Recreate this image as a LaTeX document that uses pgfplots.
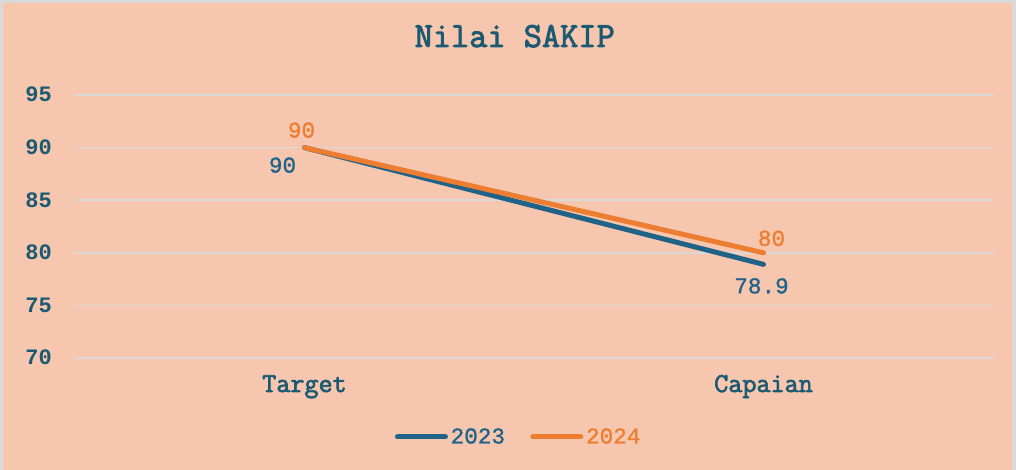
\documentclass[border=0pt]{standalone}
\usepackage{fontspec}
\usepackage{pgfplots}
\pgfplotsset{compat=1.18}
\newfontfamily\lmono{Liberation Mono}
\newfontfamily\lmonos[FakeBold=1]{Liberation Mono}
\newfontfamily\courb[FakeBold=2.5]{Latin Modern Mono}
\definecolor{bg}{HTML}{F6C7AE}
\definecolor{tealtxt}{HTML}{1B5A72}
\definecolor{lineA}{HTML}{1F6388}
\definecolor{orng}{HTML}{ED7D31}
\definecolor{gridc}{HTML}{D9D9D9}
\begin{document}
\begin{tikzpicture}[x=0.75pt,y=0.75pt]
\fill[gridc] (-75,-112) rectangle (941,358);
\fill[bg] (-72,-112) rectangle (937,355);
\useasboundingbox (-75,-112) rectangle (941,358);
\begin{axis}[
  at={(0,0)}, anchor=south west, scale only axis,
  width=688.5pt, height=197.25pt,
  xmin=-0.5, xmax=1.5, ymin=70, ymax=95,
  xtick={0,1}, xticklabels={Target,Capaian},
  ytick={70,75,80,85,90,95},
  axis line style={draw=none}, major tick length=0pt,
  ymajorgrids, grid style={gridc, line width=1.1pt},
  /pgf/number format/assume math mode=true,
  yticklabel style={font=\lmono\bfseries\fontsize{16.5}{16.5}\selectfont, text=tealtxt, anchor=base east, inner sep=0pt, xshift=-17.25pt, yshift=-5.25pt},
  xticklabel style={font=\courb\fontsize{20.5}{20.5}\selectfont, text=tealtxt, anchor=base, inner sep=0pt, yshift=-25.5pt},
  title={Nilai SAKIP},
  title style={font=\courb\fontsize{26.5}{28}\selectfont, text=tealtxt, at={(0.479,1)}, anchor=base, inner sep=0pt, yshift=30pt},
  legend style={at={(0.4837,-0.30)}, anchor=center, draw=none, fill=none,
    font=\lmonos\fontsize{17}{17}\selectfont, legend columns=2,
    /tikz/every even column/.append style={column sep=17pt}},
  legend image code/.code={\draw[#1, line cap=round] (0pt,0pt) -- (36pt,0pt);},
  nodes near coords,
  every node near coord/.append style={font=\lmonos\fontsize{17}{17}\selectfont, anchor=base, inner sep=0pt},
]
\addplot[lineA, line width=3.75pt, line cap=round, mark=none,
  every node near coord/.append style={text=lineA},
  coordinate style/.condition={x==0}{xshift=-16.5pt, yshift=-18.75pt},
  coordinate style/.condition={x==1}{xshift=-1.5pt, yshift=-21.75pt}]
  coordinates {(0,90) (1,78.9)};
\addlegendentry{\textcolor{lineA}{2023}}
\addplot[orng, line width=3.75pt, line cap=round, mark=none,
  every node near coord/.append style={text=orng},
  coordinate style/.condition={x==0}{xshift=-2.25pt, yshift=7.5pt},
  coordinate style/.condition={x==1}{xshift=6pt, yshift=5.25pt}]
  coordinates {(0,90) (1,80)};
\addlegendentry{\textcolor{orng}{2024}}
\end{axis}
\end{tikzpicture}
\end{document}
